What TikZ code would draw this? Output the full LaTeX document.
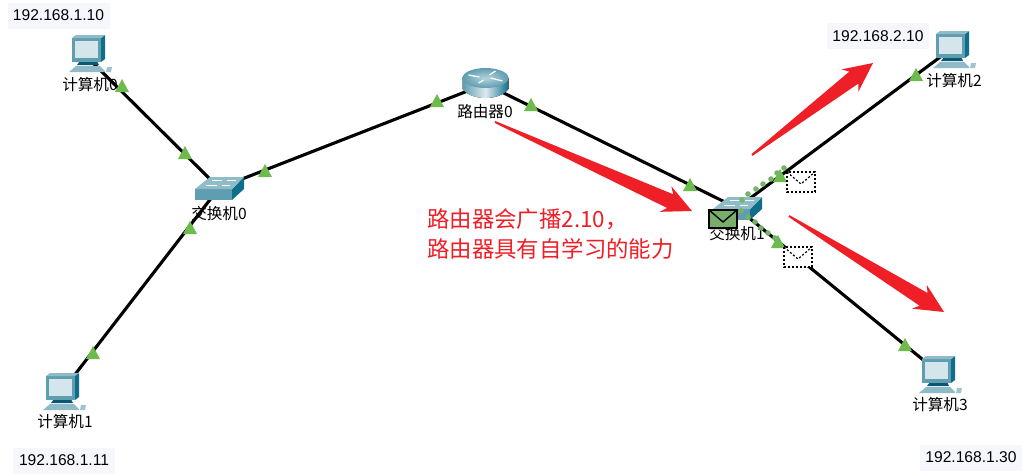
\documentclass[tikz,border=0pt]{standalone}
\usepackage{fontspec}
\setmainfont{Liberation Sans}
\newfontfamily\cjk{Noto Sans CJK SC}
\usetikzlibrary{calc,shadings}
\definecolor{tealA}{HTML}{5F9DB0}
\definecolor{tealB}{HTML}{9CC4D0}
\definecolor{tealC}{HTML}{0F6E8C}
\definecolor{screenC}{HTML}{D5E5EC}
\definecolor{tri}{HTML}{6CBB4C}
\definecolor{dot}{HTML}{76B367}
\definecolor{envg}{HTML}{76AE6A}
\definecolor{redA}{HTML}{EE1F27}
\definecolor{ipbg}{HTML}{F6F7FD}
\tikzset{
  x=1pt,y=-1pt,
  link/.style={line width=3.1pt,black},
  iplabel/.style={fill=ipbg,font=\fontsize{15.6}{16}\selectfont,inner sep=0pt,minimum width=102pt,minimum height=26pt},
  devlabel/.style={font=\cjk\fontsize{15.6}{16}\selectfont,inner sep=0pt},
  redlabel/.style={font=\cjk\fontsize{22.4}{30}\selectfont,text=redA,inner sep=0pt,align=left,anchor=west},
  pics/pc/.style={code={
    % base, keyboard and mouse
    \fill[tealA!70!white] (-13,11) -- (11,11) -- (16,16) -- (16,17) -- (-20,17) -- cycle;
    \fill[tealC!80!black] (-9,6) -- (8,6) -- (10,10) -- (-12,10) -- cycle;
    \fill[tealA!60!white] (18,12) -- (23,12) -- (22,17) -- (17,17) -- cycle;
    % monitor
    \fill[tealA] (-17,-17) -- (12,-17) -- (12,7) -- (-17,7) -- cycle;
    \fill[tealC] (12,-17) -- (16,-20) -- (16,4) -- (12,7) -- cycle;
    \fill[tealA!70!white] (-17,-17) -- (-13,-20) -- (16,-20) -- (12,-17) -- cycle;
    \fill[screenC] (-14,-14) rectangle (9,3);
  }},
  pics/sw/.style={code={
    \fill[tealC] (25,-11) -- (25,1) -- (13,12) -- (13,1) -- cycle;
    \fill[tealA] (-24,1) -- (13,1) -- (13,12) -- (-24,12) -- cycle;
    \fill[tealB!80!tealA] (-24,1) -- (-9,-11) -- (25,-11) -- (13,1) -- cycle;
    \draw[white,line width=0.9pt] (-13,-3) -- (-2,-3) (3,-3) -- (11,-3) (-7,-8) -- (3,-8) (8,-8) -- (17,-8);
  }},
  pics/rt/.style={code={
    \fill[left color=tealA,right color=tealC,middle color=tealB!35!white] (-23,-6) -- (-23,5) .. controls (-14,17) and (14,17) .. (23,5) -- (23,-6) -- cycle;
    \shade[inner color=tealB!75!white,outer color=tealA] (0,-6) ellipse[x radius=23,y radius=10];
    \draw[white,line width=1.3pt] (-17,-9) -- (-6,-7) (4,-9) -- (10,-13) (5,-6) -- (17,-3) (-7,-1) -- (-2,-4);
  }},
  pics/tr/.style={code={\fill[tri] (-7,6) -- (0,-7) -- (7,6) -- cycle;}},
  pics/env/.style={code={
    \draw[black,line width=1.7pt,dash pattern=on 2pt off 2pt,fill=white] (-14,-10) rectangle (14,10);
    \draw[black,line width=1.2pt,dash pattern=on 2pt off 2pt] (-14,-10) -- (0,2) -- (14,-10);
  }},
  pics/envg/.style={code={
    \draw[black,line width=1.7pt,fill=envg] (-14,-9) rectangle (14,9);
    \draw[black,line width=1.4pt] (-14,-9) -- (0,3) -- (14,-9);
  }},
}
\newcommand{\redarrow}[2]{%
  \fill[redA] ($(#1)!1pt!90:(#2)$) -- ($(#2)!24pt!(#1)!7.5pt!-90:(#1)$) -- ($(#2)!29pt!(#1)!14pt!-90:(#1)$) -- (#2)
   -- ($(#2)!29pt!(#1)!14pt!90:(#1)$) -- ($(#2)!24pt!(#1)!7.5pt!90:(#1)$) -- ($(#1)!1pt!-90:(#2)$) -- cycle;}
\begin{document}
\begin{tikzpicture}
\useasboundingbox (0,0) rectangle (1034,475);
\fill[white] (0,0) rectangle (1034,475);
% link ends at the devices
\coordinate (pcA) at (90,60);
\coordinate (pcB) at (63,390);
\coordinate (pcC) at (951,49);
\coordinate (pcD) at (938,372);
\coordinate (swA) at (219,188);
\coordinate (swB) at (737,208);
\coordinate (rtA) at (485.5,84);
% links
\draw[link] (pcA) -- (swA);
\draw[link] (swA) -- (pcB);
\draw[link] (swA) -- (rtA);
\draw[link] (rtA) -- (swB);
\draw[link] (swB) -- (pcC);
\draw[link] (swB) -- (pcD);
% IP labels
\node[iplabel] (ipA) at (58.5,15.5) {192.168.1.10};
\node[iplabel] (ipB) at (64,460.5) {192.168.1.11};
\node[iplabel] (ipC) at (878,36) {192.168.2.10};
\node[iplabel] (ipD) at (971,457.5) {192.168.1.30};
% devices
\pic at (89,55) {pc};
\pic at (63,393) {pc};
\pic at (953,51) {pc};
\pic at (939,376) {pc};
\pic at (swA) {sw};
\pic at (swB) {sw};
\pic at (rtA) {rt};
\node[devlabel] (lblA) at (90,85) {计算机0};
\node[devlabel] (lblB) at (65,422) {计算机1};
\node[devlabel] (lblC) at (954,81) {计算机2};
\node[devlabel] (lblD) at (940,405) {计算机3};
\node[devlabel] (lblE) at (219,214) {交换机0};
\node[devlabel] (lblF) at (737,234) {交换机1};
\node[devlabel] (lblG) at (485,112) {路由器0};
% triangles
\foreach \p in {(122,86),(185,153),(265,171),(437,101),(531,105),(690,185),(190,228),(93,353),(916,75),(780,176),(778,242),(905,345)}
  \pic at \p {tr};
% dots
\foreach \p in {(748,194),(756,189),(763,184),(771,179),(777,173),(784,168),(742,200),(741,211),(748,217),(755,222),(761,228),(768,233),(775,238)}
  \fill[dot] \p circle[radius=2.8];
% envelopes
\pic at (801,182) {env};
\pic at (798,257) {env};
\pic at (723,219) {envg};
% red arrows
\coordinate (aa) at (495,122); \coordinate (ab) at (692,211);
\coordinate (ba) at (752,155); \coordinate (bb) at (873,63);
\coordinate (ca) at (789,216); \coordinate (cb) at (944,312);
\redarrow{aa}{ab}
\redarrow{ba}{bb}
\redarrow{ca}{cb}
\node[redlabel] (note) at (427,234) {路由器会广播2.10，\\路由器具有自学习的能力};
\end{tikzpicture}
\end{document}
